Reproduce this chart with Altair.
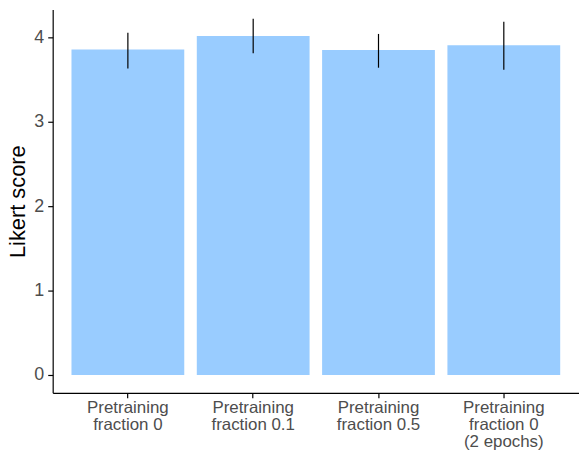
import altair as alt
import pandas as pd

categories = ["Pretraining\nfraction 0", "Pretraining\nfraction 0.1",
              "Pretraining\nfraction 0.5", "Pretraining\nfraction 0\n(2 epochs)"]
means = [3.855, 4.015, 3.85, 3.905]
lows = [3.63, 3.81, 3.64, 3.615]
highs = [4.055, 4.22, 4.04, 4.185]

df = pd.DataFrame({"cat": categories, "mean": means, "lo": lows, "hi": highs})

FONT = "Liberation Sans"

x_enc = alt.X("cat:N", sort=categories, title=None,
              scale=alt.Scale(paddingInner=0.1, paddingOuter=0.15),
              axis=alt.Axis(labelExpr="split(datum.label, '\\n')", labelAngle=0,
                            labelFont=FONT, labelFontSize=17,
                            labelColor="#4d4d4d", labelLineHeight=17,
                            labelPadding=2, tickSize=5, tickColor="black",
                            domainColor="black", domainWidth=1.2, tickWidth=1.2,
                            grid=False))

y_scale = alt.Scale(domain=[-0.2118, 4.329], nice=False, zero=False)

bars = alt.Chart(df).mark_bar(color="#99ccff").encode(
    x=x_enc,
    y=alt.Y("mean:Q", scale=y_scale, title="Likert score",
            axis=alt.Axis(values=[0, 1, 2, 3, 4], format="d", labelFont=FONT,
                          labelFontSize=18, labelColor="#4d4d4d", labelPadding=4,
                          tickSize=5, tickColor="black", domainColor="black",
                          domainWidth=1.2, tickWidth=1.2, grid=False,
                          titleFont=FONT, titleFontSize=22,
                          titleFontWeight="normal", titleColor="black",
                          titlePadding=4)),
    y2=alt.datum(0),
)

errs = alt.Chart(df).mark_rule(color="black", strokeWidth=1.2).encode(
    x=alt.X("cat:N", sort=categories),
    y="lo:Q",
    y2="hi:Q",
)

chart = (bars + errs).properties(
    width=530, height=386,
    autosize=alt.AutoSizeParams(type="none"),
    padding={"left": 45, "top": 0, "right": 0, "bottom": 58},
).configure_view(stroke=None)

chart.save("out.html", embed_options={"renderer": "svg", "actions": False})
